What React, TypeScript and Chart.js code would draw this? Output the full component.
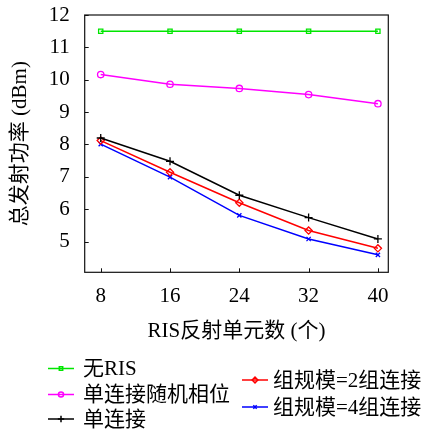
import React, { useEffect, useRef } from "react";
import { Chart, registerables } from "chart.js";
import { drawPoint } from "chart.js/helpers";

Chart.register(...registerables);

const xValues = [8, 16, 24, 32, 40];
const xTicks = [8, 16, 24, 32, 40];
const yTicks = [5, 6, 7, 8, 9, 10, 11, 12];

const noRis = [11.5, 11.5, 11.5, 11.5, 11.5];
const singleRandom = [10.16, 9.86, 9.73, 9.54, 9.26];
const singleConn = [8.2, 7.48, 6.43, 5.74, 5.08];
const group2 = [8.12, 7.14, 6.2, 5.34, 4.79];
const group4 = [8.01, 6.99, 5.81, 5.08, 4.59];

const labels = ["无RIS", "单连接随机相位", "单连接", "组规模=2组连接", "组规模=4组连接"];
const xTitle = "RIS反射单元数 (个)";
const yTitle = "总发射功率 (dBm)";

const FONT = '"Liberation Serif", "DejaVu Serif", "Noto Sans CJK SC", serif';

export default function App() {
  const ref = useRef<HTMLCanvasElement | null>(null);

  useEffect(() => {
    if (!ref.current) return;
    const mk = (vals: number[]) => vals.map((y, i) => ({ x: xValues[i], y }));
    const styles = [
      { color: "#00e600", point: "rect", r: 3 },
      { color: "#ff00ff", point: "circle", r: 3.2 },
      { color: "#000000", point: "cross", r: 4 },
      { color: "#ff0000", point: "rectRot", r: 3.6 },
      { color: "#0000ff", point: "crossRot", r: 3 },
    ];
    const series = [noRis, singleRandom, singleConn, group2, group4];

    const frame = {
      id: "frame",
      afterDatasetsDraw(chart: any) {
        const { ctx, chartArea: a, scales } = chart;
        ctx.save();
        ctx.strokeStyle = "#111";
        ctx.lineWidth = 1;
        ctx.beginPath();
        for (const v of xTicks) {
          const px = Math.round(scales.x.getPixelForValue(v)) + 0.5;
          ctx.moveTo(px, a.bottom);
          ctx.lineTo(px, a.bottom - 4);
        }
        for (const v of yTicks) {
          const py = Math.round(scales.y.getPixelForValue(v)) + 0.5;
          ctx.moveTo(a.left, py);
          ctx.lineTo(a.left + 4, py);
        }
        ctx.stroke();
        ctx.lineWidth = 1.2;
        ctx.strokeRect(a.left, a.top, a.right - a.left, a.bottom - a.top);
        ctx.restore();
      },
      afterDraw(chart: any) {
        const { ctx } = chart;
        const pos = [
          { lx: 48, rx: 74, tx: 83, y: 368.5 },
          { lx: 48, rx: 74, tx: 83, y: 394.5 },
          { lx: 48, rx: 74, tx: 83, y: 419 },
          { lx: 242, rx: 268, tx: 273, y: 380 },
          { lx: 242, rx: 268, tx: 273, y: 407 },
        ];
        ctx.save();
        chart.data.datasets.forEach((ds: any, i: number) => {
          const p = pos[i];
          const s = styles[i];
          ctx.strokeStyle = s.color;
          ctx.lineWidth = 1.5;
          ctx.beginPath();
          ctx.moveTo(p.lx, p.y);
          ctx.lineTo(p.rx, p.y);
          ctx.stroke();
          ctx.fillStyle = "rgba(0,0,0,0)";
          drawPoint(ctx, { pointStyle: s.point, radius: s.r * 0.8, rotation: 0, borderWidth: 1.3 } as any, (p.lx + p.rx) / 2, p.y);
          ctx.fillStyle = "#000";
          ctx.font = `21px ${FONT}`;
          ctx.textBaseline = "middle";
          ctx.textAlign = "left";
          ctx.fillText(ds.label, p.tx, p.y + 1);
        });
        ctx.restore();
      },
    };

    const chart = new Chart(ref.current, {
      type: "line",
      data: {
        datasets: series.map((vals, i) => ({
          label: labels[i],
          data: mk(vals),
          borderColor: styles[i].color,
          backgroundColor: "rgba(0,0,0,0)",
          pointBackgroundColor: "rgba(0,0,0,0)",
          pointBorderColor: styles[i].color,
          pointStyle: styles[i].point as any,
          pointRadius: styles[i].r,
          pointBorderWidth: 1.3,
          borderWidth: 1.5,
          tension: 0,
          fill: false,
        })),
      },
      options: {
        animation: false,
        responsive: false,
        devicePixelRatio: 1,
        layout: { padding: { left: 0, top: 15, right: 39.7, bottom: 82.7 } },
        plugins: { legend: { display: false }, tooltip: { enabled: false } },
        scales: {
          x: {
            type: "linear",
            min: 6.15,
            max: 41.2,
            grid: { display: false, drawTicks: false },
            border: { display: false },
            afterBuildTicks: (s: any) => {
              s.ticks = xTicks.map((v) => ({ value: v }));
            },
            afterFit: (s: any) => {
              s.height = 75;
              s.paddingLeft = 0;
              s.paddingRight = 0;
              s.paddingTop = 0;
              s.paddingBottom = 0;
            },
            ticks: {
              color: "#000",
              padding: 12,
              maxRotation: 0,
              autoSkip: false,
              font: { family: FONT, size: 21 },
            },
            title: {
              display: true,
              text: xTitle,
              color: "#000",
              padding: { top: 0, bottom: 3 },
              font: { family: FONT, size: 21 },
            },
          },
          y: {
            type: "linear",
            min: 4.05,
            max: 12,
            grid: { display: false, drawTicks: false },
            border: { display: false },
            afterBuildTicks: (s: any) => {
              s.ticks = yTicks.map((v) => ({ value: v }));
            },
            afterFit: (s: any) => {
              s.width = 84.7;
              s.paddingLeft = 0;
              s.paddingRight = 0;
              s.paddingTop = 0;
              s.paddingBottom = 0;
            },
            ticks: {
              color: "#000",
              padding: 15,
              autoSkip: false,
              font: { family: FONT, size: 21 },
            },
            title: {
              display: true,
              text: yTitle,
              color: "#000",
              padding: { top: 7.4, bottom: 0 },
              font: { family: FONT, size: 21 },
            },
          },
        },
      },
      plugins: [frame],
    });
    return () => chart.destroy();
  }, []);

  return (
    <div style={{ position: "absolute", left: 0, top: 0, width: 428, height: 430, background: "#fff" }}>
      <canvas ref={ref} width={428} height={430} style={{ display: "block" }} />
    </div>
  );
}
